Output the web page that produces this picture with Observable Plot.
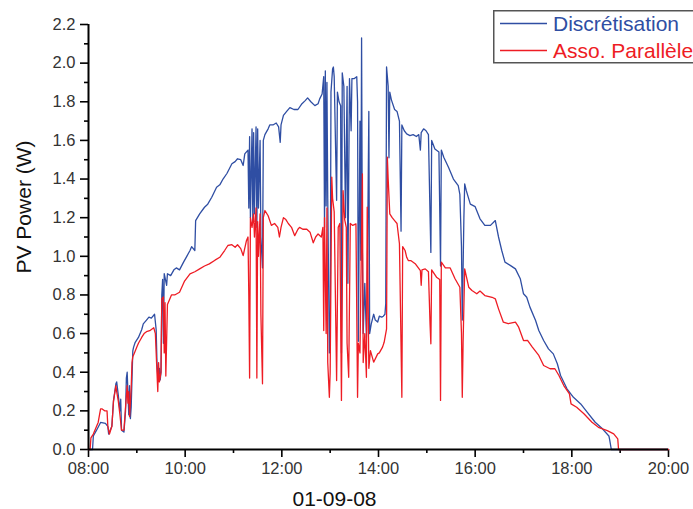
<!DOCTYPE html>
<html><head><meta charset="utf-8">
<script src="https://cdn.jsdelivr.net/npm/d3@7"></script>
<script src="https://cdn.jsdelivr.net/npm/@observablehq/plot@0.6"></script>
<style>
body{margin:0;background:#fff;}
#wrap{position:relative;width:693px;height:509px;overflow:hidden;font-family:Arial,"Liberation Sans",sans-serif;background:#fff;}
#legend{position:absolute;left:493px;top:10px;}
</style></head><body><div id="wrap"></div>
<script>
// Discrétisation (blue)
const blueTime = ["08:00","08:05","08:06","08:10","08:15","08:21","08:24","08:25","08:29","08:31","08:34","08:35","08:37","08:39","08:40","08:41","08:44","08:46","08:47","08:48","08:50","08:51","08:52","08:53","08:55","08:56","08:58","09:02","09:06","09:08","09:12","09:15","09:18","09:22","09:24","09:25","09:26","09:28","09:29","09:30","09:31","09:32","09:33","09:34","09:37","09:38","09:42","09:46","09:49","09:53","09:58","10:02","10:06","10:08","10:12","10:13","10:18","10:24","10:28","10:33","10:39","10:43","10:47","10:52","10:58","11:02","11:05","11:09","11:12","11:14","11:18","11:19","11:20","11:21","11:23","11:24","11:25","11:26","11:28","11:29","11:30","11:31","11:33","11:34","11:36","11:37","11:39","11:43","11:45","11:49","11:53","11:56","11:58","11:59","12:02","12:06","12:10","12:15","12:20","12:25","12:29","12:32","12:36","12:41","12:45","12:47","12:50","12:52","12:53","12:54","12:55","12:56","12:57","12:59","13:00","13:01","13:03","13:04","13:05","13:08","13:09","13:11","13:13","13:14","13:15","13:17","13:19","13:21","13:22","13:24","13:26","13:27","13:30","13:33","13:34","13:35","13:37","13:38","13:39","13:40","13:41","13:43","13:45","13:46","13:48","13:49","13:51","13:54","13:56","13:59","14:01","14:04","14:06","14:08","14:09","14:10","14:12","14:13","14:14","14:16","14:20","14:23","14:26","14:28","14:29","14:32","14:35","14:39","14:43","14:47","14:50","14:52","14:53","14:56","14:59","15:02","15:04","15:05","15:06","15:10","15:15","15:17","15:18","15:21","15:27","15:33","15:39","15:41","15:43","15:44","15:46","15:47","15:49","15:54","16:00","16:06","16:12","16:19","16:25","16:29","16:33","16:37","16:44","16:50","16:56","17:00","17:04","17:08","17:15","17:19","17:25","17:31","17:37","17:42","17:46","17:54","18:02","18:11","18:19","18:29","18:38","18:46","18:47","18:49","20:00"];
const blueValue = [0,0,0.07,0.10,0.14,0.135,0.12,0.08,0.12,0.25,0.34,0.35,0.28,0.20,0.26,0.10,0.09,0.20,0.37,0.40,0.18,0.33,0.16,0.22,0.51,0.53,0.555,0.58,0.62,0.65,0.67,0.685,0.68,0.70,0.62,0.45,0.38,0.42,0.36,0.40,0.80,0.88,0.55,0.91,0.85,0.91,0.90,0.93,0.94,0.93,0.97,1.00,1.03,1.05,1.03,1.185,1.22,1.254,1.27,1.306,1.358,1.37,1.40,1.43,1.479,1.49,1.505,1.50,1.47,1.53,1.55,1.25,1.62,1.20,1.66,1.18,1.64,1.22,1.67,1.15,1.66,1.25,1.60,1.10,0.94,1.60,1.63,1.66,1.68,1.68,1.69,1.67,1.59,1.68,1.73,1.75,1.77,1.76,1.76,1.79,1.806,1.82,1.80,1.78,1.79,1.815,1.84,1.93,1.15,1.96,1.26,1.90,1.30,0.50,0.55,1.85,1.97,1.98,1.93,1.29,1.85,1.80,1.78,0.50,1.95,1.88,1.20,1.88,0.86,1.92,1.65,1.92,1.92,1.93,1.80,0.56,1.70,0.98,2.13,1.02,0.60,0.86,0.58,0.80,1.75,0.60,0.65,0.70,0.67,0.66,0.69,0.685,0.69,0.70,0.755,1.98,1.88,1.51,1.85,1.81,1.76,1.75,1.70,1.13,1.68,1.65,1.634,1.625,1.63,1.62,1.63,1.55,1.64,1.66,1.65,1.63,1.21,1.02,1.60,1.556,1.54,0.95,1.55,1.513,1.46,1.40,1.366,1.32,1.05,0.67,1.20,1.375,1.34,1.27,1.257,1.194,1.16,1.16,1.185,1.10,1.03,0.97,0.952,0.935,0.884,0.806,0.788,0.737,0.668,0.616,0.564,0.521,0.495,0.444,0.383,0.314,0.27,0.236,0.193,0.141,0.107,0.07,0.05,0,0];

// Asso. Parallèle (red)
const redTime = ["08:00","08:02","08:03","08:06","08:09","08:12","08:15","08:17","08:20","08:23","08:24","08:26","08:29","08:31","08:34","08:35","08:37","08:39","08:41","08:44","08:46","08:48","08:49","08:50","08:51","08:53","08:54","08:55","08:57","09:00","09:02","09:06","09:09","09:12","09:16","09:21","09:23","09:25","09:26","09:27","09:28","09:30","09:31","09:33","09:34","09:35","09:36","09:38","09:40","09:43","09:47","09:53","09:59","10:06","10:12","10:18","10:24","10:30","10:37","10:43","10:49","10:53","10:58","11:02","11:05","11:09","11:12","11:16","11:18","11:19","11:20","11:21","11:23","11:25","11:26","11:28","11:29","11:30","11:31","11:33","11:34","11:36","11:37","11:39","11:43","11:47","11:51","11:55","11:57","11:59","12:02","12:05","12:08","12:12","12:16","12:20","12:22","12:26","12:31","12:35","12:39","12:42","12:45","12:49","12:51","12:52","12:53","12:55","12:56","12:57","12:59","13:00","13:02","13:03","13:05","13:08","13:10","13:12","13:14","13:16","13:18","13:20","13:21","13:23","13:25","13:28","13:32","13:34","13:35","13:37","13:40","13:41","13:43","13:45","13:46","13:48","13:50","13:54","13:59","14:01","14:05","14:07","14:10","14:11","14:12","14:14","14:17","14:20","14:23","14:26","14:29","14:30","14:33","14:35","14:37","14:40","14:46","14:52","14:53","14:54","14:58","15:02","15:04","15:05","15:06","15:12","15:16","15:17","15:18","15:23","15:29","15:35","15:41","15:43","15:44","15:45","15:47","15:52","15:56","16:02","16:06","16:12","16:21","16:25","16:29","16:35","16:41","16:50","16:54","17:00","17:05","17:11","17:19","17:25","17:33","17:39","17:44","17:50","17:57","17:59","18:06","18:15","18:25","18:33","18:44","18:52","18:57","18:58","20:00"];
const redValue = [0,0,0.06,0.08,0.11,0.14,0.21,0.21,0.20,0.20,0.12,0.08,0.12,0.25,0.33,0.30,0.25,0.18,0.10,0.10,0.22,0.33,0.24,0.30,0.17,0.32,0.45,0.48,0.50,0.53,0.55,0.58,0.60,0.61,0.615,0.63,0.60,0.40,0.30,0.45,0.35,0.40,0.78,0.79,0.50,0.76,0.38,0.75,0.77,0.80,0.80,0.814,0.87,0.909,0.92,0.935,0.95,0.961,0.98,0.995,1.03,1.056,1.06,1.047,1.06,1.04,1.004,1.08,1.10,0.80,0.37,1.20,1.15,1.22,1.10,1.25,0.37,1.18,1.00,1.22,0.70,0.34,1.20,1.237,1.21,1.16,1.17,1.15,1.10,1.15,1.20,1.19,1.17,1.15,1.107,1.14,1.15,1.14,1.14,1.125,1.07,1.10,1.116,1.10,1.15,0.616,1.20,0.60,1.25,0.45,0.27,0.40,1.41,1.30,1.23,0.357,1.15,1.17,0.254,1.34,1.19,1.15,0.55,0.374,1.17,1.16,1.168,0.27,0.55,0.50,1.427,0.45,0.60,0.374,1.254,0.42,0.512,0.452,0.495,0.50,0.53,0.555,0.625,1.513,1.40,1.22,1.20,1.185,1.17,1.065,0.27,1.05,1.03,0.995,0.978,0.978,0.96,0.926,0.85,0.93,0.935,0.92,0.65,0.547,0.93,0.892,0.88,0.254,0.97,0.94,0.94,0.884,0.84,0.60,0.27,0.55,0.935,0.84,0.823,0.806,0.82,0.797,0.788,0.78,0.728,0.659,0.651,0.659,0.633,0.564,0.565,0.53,0.487,0.435,0.418,0.418,0.383,0.331,0.288,0.236,0.219,0.185,0.141,0.115,0.098,0.081,0.055,0,0];

const seriesNames = ["Discrétisation", "Asso. Parallèle"];
const xTickLabels = ["08:00","10:00","12:00","14:00","16:00","18:00","20:00"];
const xMinorLabels = ["09:00","11:00","13:00","15:00","17:00","19:00"];
const yTickValues = [0,0.2,0.4,0.6,0.8,1.0,1.2,1.4,1.6,1.8,2.0,2.2];
const yMinorValues = [0.1,0.3,0.5,0.7,0.9,1.1,1.3,1.5,1.7,1.9,2.1];
const xTitle = "01-09-08";
const yTitle = "PV Power (W)";

const parse = s => { const [h, m] = s.split(":").map(Number); return new Date(Date.UTC(2008, 8, 1, h, m)); };
const blue = blueTime.map((t, i) => ({t: parse(t), v: blueValue[i]}));
const red = redTime.map((t, i) => ({t: parse(t), v: redValue[i]}));
const BLUE = "#2f4ea3", RED = "#ee1c24";
const FONT = "Arial, 'Liberation Sans', sans-serif";

const chart = Plot.plot({
  width: 693, height: 509,
  marginLeft: 88, marginRight: 25, marginTop: 24, marginBottom: 60,
  style: {fontFamily: FONT, background: "#fff", overflow: "visible"},
  x: {type: "utc", domain: [parse("08:00"), parse("20:00")]},
  y: {domain: [0, 2.2]},
  marks: [
    Plot.axisX(xTickLabels.map(parse), {tickSize: 8, tickPadding: 5, tickFormat: d3.utcFormat("%H:%M"), fontSize: 16.5, fill: "#333", stroke: "#000", strokeWidth: 1.6, label: null}),
    Plot.axisX(xMinorLabels.map(parse), {tickSize: 4, tickFormat: () => "", stroke: "#000", strokeWidth: 1.6, label: null}),
    Plot.axisY(yTickValues, {tickSize: 8, tickPadding: 5, tickFormat: d3.format(".1f"), fontSize: 16.5, fill: "#333", stroke: "#000", strokeWidth: 1.6, label: null}),
    Plot.axisY(yMinorValues, {tickSize: 4, tickFormat: () => "", stroke: "#000", strokeWidth: 1.6, label: null}),
    Plot.line(blue, {x: "t", y: "v", stroke: BLUE, strokeWidth: 1.3}),
    Plot.line(red, {x: "t", y: "v", stroke: RED, strokeWidth: 1.3}),
    Plot.ruleY([0], {stroke: "#000", strokeWidth: 2}),
    Plot.ruleX([parse("08:00")], {stroke: "#000", strokeWidth: 2}),
    Plot.text([yTitle], {frameAnchor: "left", textAnchor: "middle", lineAnchor: "middle", rotate: -90, dx: -64, dy: -30, fontSize: 21, fill: "#111"}),
    Plot.text([xTitle], {frameAnchor: "bottom", textAnchor: "middle", lineAnchor: "middle", dx: -44, dy: 50, fontSize: 21, fill: "#111"})
  ]
});
const wrap = document.getElementById("wrap");
wrap.appendChild(chart);

// legend box
const leg = document.createElement("div");
leg.id = "legend";
const colors = [BLUE, RED];
leg.innerHTML = `<svg width="210" height="54" style="display:block;overflow:visible">
  <rect x="0.75" y="0.75" width="215" height="52" fill="#fff" stroke="#555" stroke-width="1.5"/>
  ${seriesNames.map((n, i) => `<line x1="7" x2="54" y1="${13.5 + i * 27}" y2="${13.5 + i * 27}" stroke="${colors[i]}" stroke-width="1.3"/>
  <text x="60" y="${13.5 + i * 27}" dy="0.35em" font-size="21" font-family="${FONT.replace(/'/g, "")}" fill="${colors[i]}">${n}</text>`).join("")}
</svg>`;
wrap.appendChild(leg);
</script>
</body></html>
